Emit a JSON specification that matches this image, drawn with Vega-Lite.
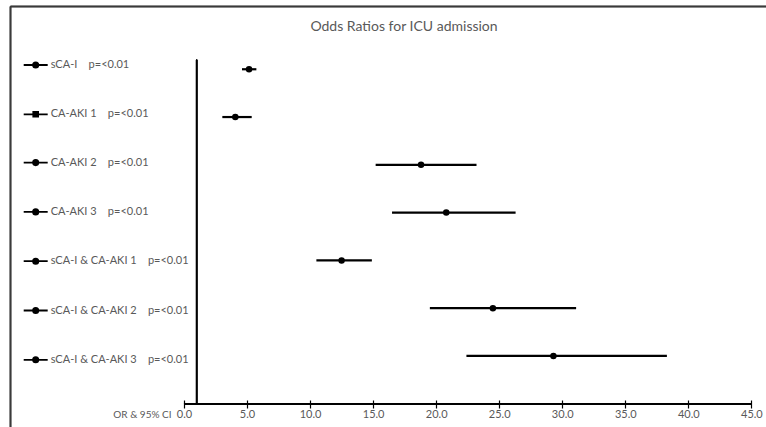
{
  "$schema": "https://vega.github.io/schema/vega-lite/v6.json",
  "width": 756,
  "height": 421,
  "autosize": "none",
  "padding": {"left": 10, "top": 6, "right": 0, "bottom": 0},
  "background": "white",
  "config": {"view": {"stroke": null}, "font": "Lato"},
  "title": {"text": "Odds Ratios for ICU admission", "fontSize": 14, "fontWeight": "normal", "color": "#595959", "font": "Lato", "anchor": "middle", "dx": 16, "dy": 14, "offset": -25, "baseline": "alphabetic"},
  "data": {"values": [
    {"label": "sCA-I\u00a0\u00a0\u00a0\u00a0p=<0.01", "row": 1, "or": 5.16, "lo": 4.60, "hi": 5.74},
    {"label": "CA-AKI 1\u00a0\u00a0\u00a0\u00a0p=<0.01", "row": 2, "or": 4.07, "lo": 3.04, "hi": 5.37},
    {"label": "CA-AKI 2\u00a0\u00a0\u00a0\u00a0p=<0.01", "row": 3, "or": 18.8, "lo": 15.2, "hi": 23.2},
    {"label": "CA-AKI 3\u00a0\u00a0\u00a0\u00a0p=<0.01", "row": 4, "or": 20.8, "lo": 16.5, "hi": 26.3},
    {"label": "sCA-I & CA-AKI 1\u00a0\u00a0\u00a0\u00a0p=<0.01", "row": 5, "or": 12.5, "lo": 10.5, "hi": 14.9},
    {"label": "sCA-I & CA-AKI 2\u00a0\u00a0\u00a0\u00a0p=<0.01", "row": 6, "or": 24.5, "lo": 19.5, "hi": 31.1},
    {"label": "sCA-I & CA-AKI 3\u00a0\u00a0\u00a0\u00a0p=<0.01", "row": 7, "or": 29.3, "lo": 22.4, "hi": 38.3}
  ]},
  "resolve": {"axis": {"y": "independent", "x": "independent"}},
  "layer": [
    {
      "mark": {"type": "rule", "color": "black", "strokeWidth": 2.2},
      "encoding": {
        "x": {"field": "lo", "type": "quantitative",
          "scale": {"domain": [-13.8, 46.16], "nice": false, "zero": false},
          "axis": {"orient": "bottom", "values": [0, 5, 10, 15, 20, 25, 30, 35, 40, 45], "format": ".1f", "domain": false, "grid": false, "offset": -27, "tickSize": 8, "tickColor": "black", "tickWidth": 1.2, "labelPadding": 0, "labelFontSize": 11, "labelColor": "#595959", "labelFont": "Lato", "labelBaseline": "top", "title": "OR & 95% CI", "titleFontWeight": "normal", "titleFontSize": 10, "titleColor": "#595959", "titleFont": "Lato", "titleX": 161, "titleY": 9, "titleAlign": "right", "titleBaseline": "top", "titleAngle": 0}},
        "x2": {"field": "hi"},
        "y": {"field": "row", "type": "quantitative", "scale": {"domain": [-0.324, 8.487], "reverse": true, "nice": false, "zero": false},
          "axis": {"orient": "left", "domain": true, "domainColor": "#3a3a3a", "domainWidth": 1.5, "ticks": false, "labels": false, "grid": false, "title": null}}
      }
    },
    {
      "mark": {"type": "circle", "color": "black", "opacity": 1, "size": 42},
      "encoding": {
        "x": {"field": "or", "type": "quantitative",
          "axis": {"orient": "top", "domain": true, "domainColor": "#3a3a3a", "domainWidth": 1.5, "ticks": false, "labels": false, "grid": false, "title": null}},
        "y": {"field": "row", "type": "quantitative", "axis": null}
      }
    },
    {
      "mark": {"type": "rule", "color": "black", "strokeWidth": 1.3},
      "encoding": {
        "x": {"datum": 1, "type": "quantitative",
          "axis": {"orient": "top", "domain": true, "domainColor": "#3a3a3a", "domainWidth": 1.5, "ticks": false, "labels": false, "grid": false, "title": null}},
        "y": {"datum": 0.8, "type": "quantitative",
          "axis": {"orient": "left", "domain": true, "domainColor": "#3a3a3a", "domainWidth": 1.5, "ticks": false, "labels": false, "grid": false, "title": null}},
        "y2": {"datum": 8}
      }
    },
    {
      "mark": {"type": "rule", "color": "black", "strokeWidth": 1.3},
      "encoding": {
        "x": {"datum": 0, "type": "quantitative",
          "axis": {"orient": "top", "domain": true, "domainColor": "#3a3a3a", "domainWidth": 1.5, "ticks": false, "labels": false, "grid": false, "title": null}},
        "x2": {"datum": 45},
        "y": {"datum": 8, "type": "quantitative",
          "axis": {"orient": "left", "domain": true, "domainColor": "#3a3a3a", "domainWidth": 1.5, "ticks": false, "labels": false, "grid": false, "title": null}}
      }
    },
    {
      "mark": {"type": "point", "opacity": 0, "filled": false, "color": "black", "strokeWidth": 1.8, "size": 576},
      "encoding": {
        "x": {"field": "or", "type": "quantitative", "axis": null},
        "y": {"field": "row", "type": "quantitative", "axis": null},
        "shape": {"field": "label", "type": "nominal",
          "scale": {
            "domain": ["sCA-I\u00a0\u00a0\u00a0\u00a0p=<0.01", "CA-AKI 1\u00a0\u00a0\u00a0\u00a0p=<0.01", "CA-AKI 2\u00a0\u00a0\u00a0\u00a0p=<0.01", "CA-AKI 3\u00a0\u00a0\u00a0\u00a0p=<0.01", "sCA-I & CA-AKI 1\u00a0\u00a0\u00a0\u00a0p=<0.01", "sCA-I & CA-AKI 2\u00a0\u00a0\u00a0\u00a0p=<0.01", "sCA-I & CA-AKI 3\u00a0\u00a0\u00a0\u00a0p=<0.01"],
            "range": [
              "M-1,0H1M-0.22,0A0.22,0.22,0,1,1,0.22,0A0.22,0.22,0,1,1,-0.22,0M-0.13,0A0.13,0.13,0,1,1,0.13,0A0.13,0.13,0,1,1,-0.13,0M-0.04,0A0.04,0.04,0,1,1,0.04,0A0.04,0.04,0,1,1,-0.04,0",
              "M-1,0H1M-0.2,-0.2H0.2V0.2H-0.2ZM-0.11,-0.11H0.11V0.11H-0.11ZM-0.03,-0.03H0.03V0.03H-0.03Z",
              "M-1,0H1M-0.22,0A0.22,0.22,0,1,1,0.22,0A0.22,0.22,0,1,1,-0.22,0M-0.13,0A0.13,0.13,0,1,1,0.13,0A0.13,0.13,0,1,1,-0.13,0M-0.04,0A0.04,0.04,0,1,1,0.04,0A0.04,0.04,0,1,1,-0.04,0",
              "M-1,0H1M-0.22,0A0.22,0.22,0,1,1,0.22,0A0.22,0.22,0,1,1,-0.22,0M-0.13,0A0.13,0.13,0,1,1,0.13,0A0.13,0.13,0,1,1,-0.13,0M-0.04,0A0.04,0.04,0,1,1,0.04,0A0.04,0.04,0,1,1,-0.04,0",
              "M-1,0H1M-0.22,0A0.22,0.22,0,1,1,0.22,0A0.22,0.22,0,1,1,-0.22,0M-0.13,0A0.13,0.13,0,1,1,0.13,0A0.13,0.13,0,1,1,-0.13,0M-0.04,0A0.04,0.04,0,1,1,0.04,0A0.04,0.04,0,1,1,-0.04,0",
              "M-1,0H1M-0.22,0A0.22,0.22,0,1,1,0.22,0A0.22,0.22,0,1,1,-0.22,0M-0.13,0A0.13,0.13,0,1,1,0.13,0A0.13,0.13,0,1,1,-0.13,0M-0.04,0A0.04,0.04,0,1,1,0.04,0A0.04,0.04,0,1,1,-0.04,0",
              "M-1,0H1M-0.22,0A0.22,0.22,0,1,1,0.22,0A0.22,0.22,0,1,1,-0.22,0M-0.13,0A0.13,0.13,0,1,1,0.13,0A0.13,0.13,0,1,1,-0.13,0M-0.04,0A0.04,0.04,0,1,1,0.04,0A0.04,0.04,0,1,1,-0.04,0"
            ]},
          "legend": {"title": null, "orient": "none", "legendX": 12.7, "legendY": 46, "padding": 0, "symbolSize": 576, "symbolOpacity": 1, "symbolStrokeColor": "black", "symbolStrokeWidth": 1.8, "rowPadding": 29.3, "labelOffset": 2, "labelFontSize": 11, "labelColor": "#595959", "labelFont": "Lato", "labelLimit": 300}
        }
      }
    }
  ]
}
